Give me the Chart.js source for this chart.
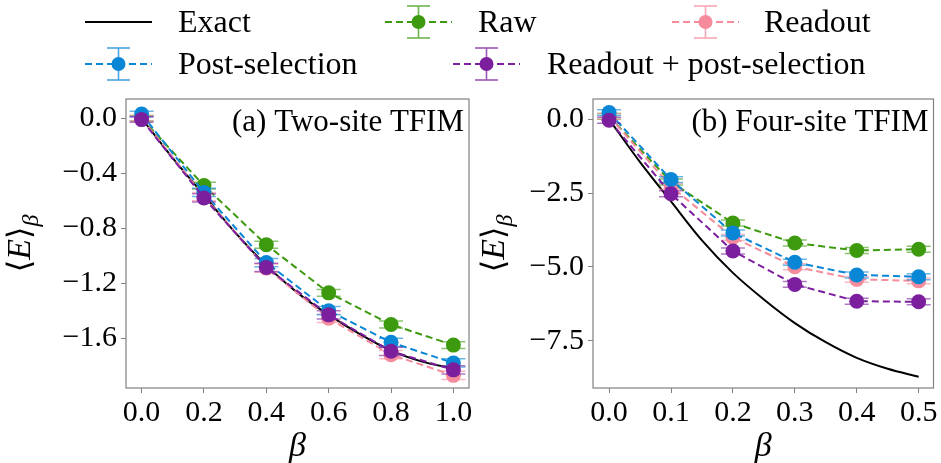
<!DOCTYPE html>
<html>
<head>
<meta charset="utf-8">
<script src="https://cdn.jsdelivr.net/npm/chart.js@4.4.1/dist/chart.umd.min.js"></script>
<style>
body{margin:0;background:#fff;width:941px;height:463px;overflow:hidden;position:relative;font-family:'Liberation Serif',serif;}
canvas{position:absolute;top:0;}
#left{left:0;}
#right{left:478px;}
.lg{position:absolute;height:36px;line-height:36px;font-size:32px;color:#000;white-space:nowrap;}
.ic{position:absolute;}
</style>
</head>
<body>
<canvas id="left" width="478" height="463"></canvas>
<canvas id="right" width="463" height="463"></canvas>
<div id="legend"></div>
<script>
// colours
const cExact = "#000000";
const cRaw = "#3d9a0f";
const cPost = "#0a86d6";
const cReadout = "#f58b9b";
const cBoth = "#7b1f9e";

// (a) two-site TFIM
const betaTwo = [0.0,0.2,0.4,0.6,0.8,1.0];
const twoRaw = [0.00,-0.49,-0.92,-1.27,-1.50,-1.65];
const twoPost = [0.03,-0.54,-1.05,-1.40,-1.63,-1.78];
const twoReadout = [0.00,-0.57,-1.09,-1.455,-1.72,-1.87];
const twoBoth = [-0.01,-0.58,-1.085,-1.43,-1.695,-1.83];
const twoErrRaw = [0.02,0.025,0.025,0.025,0.025,0.025];
const twoErrPost = [0.02,0.03,0.03,0.03,0.03,0.03];
const twoErrReadout = [0.02,0.03,0.03,0.03,0.03,0.03];
const twoErrBoth = [0.02,0.03,0.03,0.03,0.03,0.03];
const betaTwoExact = [0.0,0.1,0.2,0.3,0.4,0.5,0.6,0.7,0.8,0.9,1.0];
const twoExact = [0.0,-0.29,-0.56,-0.83,-1.07,-1.27,-1.43,-1.57,-1.69,-1.77,-1.82];
const twoXTicks = [0.0,0.2,0.4,0.6,0.8,1.0];
const twoYTicks = [0.0,-0.4,-0.8,-1.2,-1.6];

// (b) four-site TFIM
const betaFour = [0.0,0.1,0.2,0.3,0.4,0.5];
const fourRaw = [0.10,-2.12,-3.51,-4.19,-4.44,-4.40];
const fourPost = [0.23,-2.04,-3.85,-4.84,-5.27,-5.33];
const fourReadout = [0.10,-2.27,-4.00,-4.99,-5.42,-5.47];
const fourBoth = [-0.03,-2.52,-4.46,-5.59,-6.16,-6.18];
const fourErrRaw = [0.10,0.10,0.10,0.10,0.10,0.10];
const fourErrPost = [0.10,0.10,0.10,0.10,0.10,0.10];
const fourErrReadout = [0.10,0.10,0.10,0.10,0.10,0.10];
const fourErrBoth = [0.10,0.10,0.10,0.10,0.10,0.10];
const betaFourExact = [0.0,0.05,0.1,0.15,0.2,0.25,0.3,0.35,0.4,0.45,0.5];
const fourExact = [0.0,-1.45,-2.78,-4.10,-5.20,-6.10,-6.90,-7.55,-8.08,-8.45,-8.72];
const fourXTicks = [0.0,0.1,0.2,0.3,0.4,0.5];
const fourYTicks = [0.0,-2.5,-5.0,-7.5];

function pts(xs, ys){ return xs.map((x,i)=>({x:x,y:ys[i]})); }

function measured(label, xs, ys, err, color, order){
  return {
    label:label, data:pts(xs,ys), err:err, order:order,
    borderColor:color, backgroundColor:color,
    borderWidth:2, borderDash:[7,4],
    pointRadius:7.5, pointHoverRadius:7.5, pointBorderWidth:0,
    pointBackgroundColor:color, tension:0, clip:false
  };
}

// error bars drawn before each dataset
const errorBars = {
  id:'errorBars',
  beforeDatasetDraw(chart, args){
    const ds = chart.data.datasets[args.index];
    if(!ds.err) return;
    const ctx = chart.ctx, ys = chart.scales.y;
    ctx.save();
    ctx.strokeStyle = ds.borderColor;
    ctx.globalAlpha = 0.6;
    ctx.lineWidth = 1.5;
    args.meta.data.forEach((p,i)=>{
      const v = ds.data[i].y, e = ds.err[i];
      const y1 = ys.getPixelForValue(v+e), y2 = ys.getPixelForValue(v-e);
      ctx.beginPath();
      ctx.moveTo(p.x,y1); ctx.lineTo(p.x,y2);
      ctx.moveTo(p.x-12,y1); ctx.lineTo(p.x+12,y1);
      ctx.moveTo(p.x-12,y2); ctx.lineTo(p.x+12,y2);
      ctx.stroke();
    });
    ctx.restore();
  }
};

// frame, panel label and axis titles
const decor = {
  id:'decor',
  afterDatasetsDraw(chart, args, opts){
    const ctx = chart.ctx, a = chart.chartArea;
    ctx.save();
    ctx.strokeStyle = '#808080';
    ctx.lineWidth = 1.2;
    ctx.strokeRect(a.left, a.top, a.right-a.left, a.bottom-a.top);
    ctx.fillStyle = '#000';
    ctx.font = '31px "Liberation Serif"';
    ctx.textAlign = 'right';
    ctx.textBaseline = 'alphabetic';
    ctx.fillText(opts.title, a.right-5, a.top+32);
    // x title
    ctx.textAlign = 'center';
    ctx.font = 'italic 34px "Liberation Serif"';
    ctx.fillText('β', (a.left+a.right)/2, 456);
    // y title
    ctx.translate(opts.ylx, (a.top+a.bottom)/2);
    ctx.rotate(-Math.PI/2);
    const parts = [
      {t:'⟨', f:'32px "DejaVu Serif"', dy:0},
      {t:'E', f:'italic 34px "Liberation Serif"', dy:0},
      {t:'⟩', f:'32px "DejaVu Serif"', dy:0},
      {t:'β', f:'italic 24px "Liberation Serif"', dy:8}
    ];
    let w = 0;
    parts.forEach(p=>{ ctx.font = p.f; p.w = ctx.measureText(p.t).width; w += p.w; });
    let x = -w/2;
    ctx.textAlign = 'left';
    parts.forEach(p=>{ ctx.font = p.f; ctx.fillText(p.t, x, 10+p.dy); x += p.w; });
    ctx.restore();
  }
};

function fmt(v){
  if(Math.abs(v) < 1e-9) return '0.0';
  return (v<0?'−':'') + Math.abs(v).toFixed(1);
}

function makeChart(id, cfg){
  const tickFont = {family:'Liberation Serif', size:30};
  return new Chart(document.getElementById(id), {
    type:'line',
    data:{datasets:[
      {label:'Exact', data:pts(cfg.exactX,cfg.exact), borderColor:cExact, borderWidth:2,
       pointRadius:0, cubicInterpolationMode:'monotone', order:5, clip:false},
      measured('Raw', cfg.bx, cfg.raw, cfg.errRaw, cRaw, 4),
      measured('Readout', cfg.bx, cfg.readout, cfg.errReadout, cReadout, 3),
      measured('Post-selection', cfg.bx, cfg.post, cfg.errPost, cPost, 2),
      measured('Readout + post-selection', cfg.bx, cfg.both, cfg.errBoth, cBoth, 1)
    ]},
    options:{
      responsive:false, animation:false, devicePixelRatio:1,
      layout:{padding:{top:99, right:cfg.padRight, bottom:0, left:0}},
      plugins:{legend:{display:false}, tooltip:{enabled:false},
        decor:{title:cfg.title, ylx:cfg.ylx}},
      scales:{
        x:{type:'linear', min:cfg.xmin, max:cfg.xmax,
          afterBuildTicks(s){ s.ticks = cfg.xticks.map(v=>({value:v})); },
          afterFit(s){ s.height = 75; },
          ticks:{font:tickFont, color:'#000', padding:2, maxRotation:0, autoSkip:false,
            callback:v=>fmt(v)},
          grid:{drawOnChartArea:false, drawTicks:true, tickLength:5, color:'#808080'},
          border:{display:false}},
        y:{type:'linear', min:cfg.ymin, max:cfg.ymax,
          afterBuildTicks(s){ s.ticks = cfg.yticks.map(v=>({value:v})); },
          afterFit(s){ s.width = cfg.yw; },
          ticks:{font:tickFont, color:'#000', padding:4, autoSkip:false,
            callback:v=>fmt(v)},
          grid:{drawOnChartArea:false, drawTicks:true, tickLength:5, color:'#808080'},
          border:{display:false}}
      }
    },
    plugins:[errorBars, decor]
  });
}

makeChart('left', {
  title:'(a) Two-site TFIM', ylx:20, yw:126, padRight:9,
  xmin:-0.05, xmax:1.05, ymin:-1.962, ymax:0.14,
  xticks:twoXTicks, yticks:twoYTicks,
  bx:betaTwo, raw:twoRaw, post:twoPost, readout:twoReadout, both:twoBoth,
  errRaw:twoErrRaw, errPost:twoErrPost, errReadout:twoErrReadout, errBoth:twoErrBoth,
  exactX:betaTwoExact, exact:twoExact
});
makeChart('right', {
  title:'(b) Four-site TFIM', ylx:16, yw:115, padRight:7,
  xmin:-0.026, xmax:0.524, ymin:-9.10, ymax:0.69,
  xticks:fourXTicks, yticks:fourYTicks,
  bx:betaFour, raw:fourRaw, post:fourPost, readout:fourReadout, both:fourBoth,
  errRaw:fourErrRaw, errPost:fourErrPost, errReadout:fourErrReadout, errBoth:fourErrBoth,
  exactX:betaFourExact, exact:fourExact
});

// legend (html)
const legendItems = [
  {label:'Exact', color:cExact, line:true, x:85, tx:178, y:22},
  {label:'Raw', color:cRaw, x:385, tx:478, y:22},
  {label:'Readout', color:cReadout, x:672, tx:764, y:22},
  {label:'Post-selection', color:cPost, x:85, tx:178, y:64},
  {label:'Readout + post-selection', color:cBoth, x:453, tx:547, y:64}
];
const lg = document.getElementById('legend');
legendItems.forEach(it=>{
  let svg = '<svg class="ic" width="67" height="40" style="left:'+it.x+'px;top:'+(it.y-20)+'px">';
  if(it.line){
    svg += '<line x1="0" y1="20" x2="67" y2="20" stroke="'+it.color+'" stroke-width="2"/>';
  } else {
    svg += '<line x1="0" y1="20" x2="67" y2="20" stroke="'+it.color+'" stroke-width="2" stroke-dasharray="7 4"/>';
    svg += '<g stroke="'+it.color+'" stroke-width="1.6" opacity="0.75">'+
      '<line x1="33.5" y1="4" x2="33.5" y2="36"/><line x1="22" y1="4" x2="45" y2="4"/>'+
      '<line x1="22" y1="36" x2="45" y2="36"/></g>';
    svg += '<circle cx="33.5" cy="20" r="7" fill="'+it.color+'"/>';
  }
  svg += '</svg>';
  lg.insertAdjacentHTML('beforeend', svg +
    '<div class="lg" style="left:'+it.tx+'px;top:'+(it.y-19)+'px">'+it.label+'</div>');
});
</script>
</body>
</html>
